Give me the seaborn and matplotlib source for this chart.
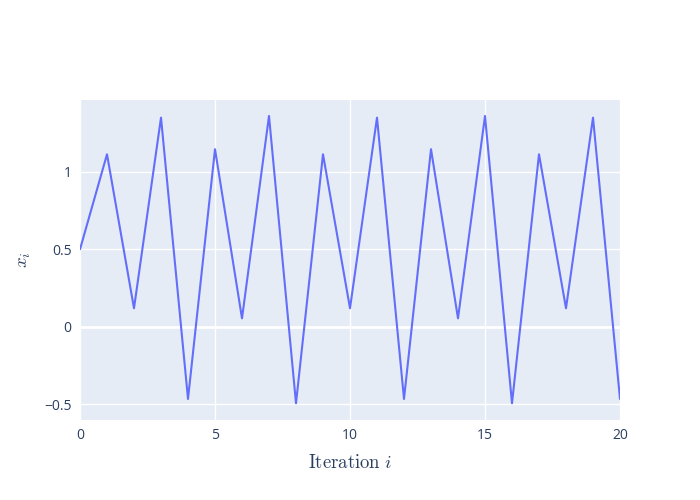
import numpy as np
import pandas as pd
import matplotlib
matplotlib.use("Agg")
import matplotlib.pyplot as plt
import seaborn as sns

# iterates
iterations = list(range(21))
x_values = [0.5, 1.114, 0.119, 1.351, -0.467, 1.147, 0.054, 1.362, -0.495,
            1.114, 0.119, 1.351, -0.467, 1.147, 0.054, 1.362, -0.495,
            1.114, 0.119, 1.351, -0.467]
x_ticks = [0, 5, 10, 15, 20]
y_ticks = [-0.5, 0, 0.5, 1]
y_ticklabels = ["\u22120.5", "0", "0.5", "1"]

df = pd.DataFrame({"i": iterations, "x": x_values})

sns.set_style("darkgrid", {"axes.facecolor": "#E5ECF6", "grid.color": "white"})
plt.rcParams["font.family"] = ["Open Sans", "DejaVu Sans"]
plt.rcParams["mathtext.fontset"] = "cm"

fig = plt.figure(figsize=(7, 5), dpi=100)
ax = fig.add_axes([80 / 700, 80 / 500, 540 / 700, 320 / 500])

sns.lineplot(data=df, x="i", y="x", ax=ax, color="#636EFA", linewidth=1.5)

ax.set_xlim(0, 20)
ax.set_ylim(-0.603, 1.465)
ax.set_xticks(x_ticks)
ax.set_yticks(y_ticks)
ax.set_yticklabels(y_ticklabels)
ax.grid(True, color="white", linewidth=1)
ax.axhline(0, color="white", linewidth=2, zorder=0.5)
for s in ax.spines.values():
    s.set_visible(False)
ax.tick_params(axis="both", length=0, labelsize=10, labelcolor="#2a3f5f", pad=6)

ax.set_xlabel(r"$\mathrm{Iteration}\ i$", fontsize=13.5, color="#2a3f5f", labelpad=8)
ax.set_ylabel(r"$x_i$", fontsize=13.5, color="#2a3f5f", labelpad=8)

fig.savefig("out.png", dpi=100)
